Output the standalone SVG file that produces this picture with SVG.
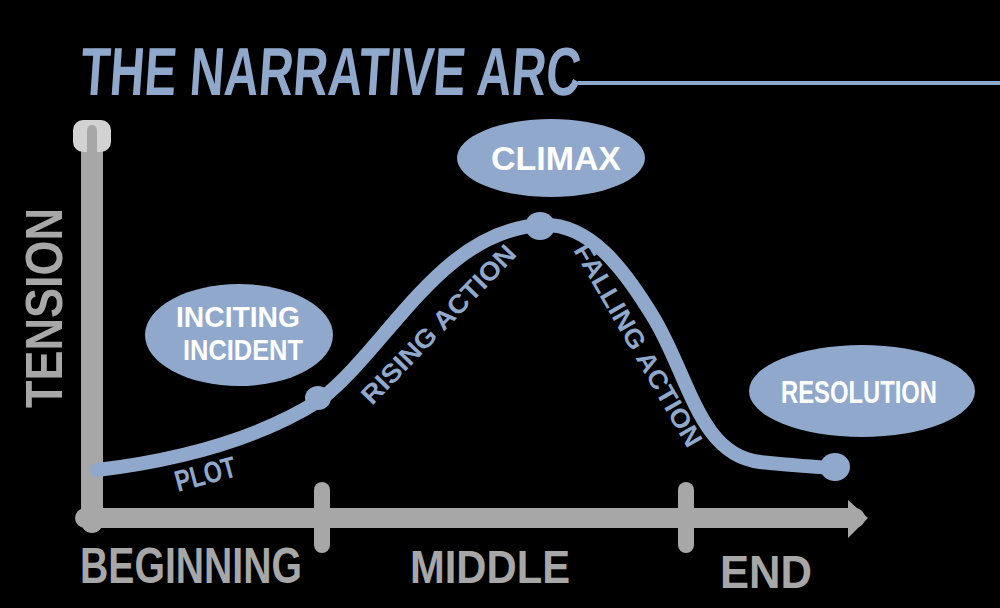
<svg xmlns="http://www.w3.org/2000/svg" width="1000" height="608" viewBox="0 0 1000 608">
<style>
.bg{fill:#000}
.blue{fill:#8fa8cc}
.gray{fill:#a7a7a7}
.axis{stroke:#a7a7a7;fill:none;stroke-linecap:round}
.curve{stroke:#8fa8cc;fill:none;stroke-width:14;stroke-linecap:round}
.hand{font-family:"Liberation Sans Narrow","Liberation Sans",sans-serif;font-weight:bold}
.white{fill:#ffffff}
</style>
<rect class="bg" x="0" y="0" width="1000" height="608"/>

<g id="title">
  <text class="hand blue" x="80" y="95" font-size="68" textLength="500" lengthAdjust="spacingAndGlyphs" transform="skewX(-4) translate(6,0)">THE NARRATIVE ARC</text>
  <line x1="578" y1="83" x2="1000" y2="83" stroke="#8fa8cc" stroke-width="4"/>
</g>

<g id="y-axis">
  <line class="axis" x1="92" y1="135" x2="92" y2="522" stroke-width="22"/>
  <rect x="73" y="120" width="38" height="32" rx="10" fill="#d2d2d2"/>
  <line class="axis" x1="92" y1="130" x2="92" y2="160" stroke-width="10"/>
  <text class="hand gray" transform="translate(62,408) rotate(-90)" font-size="52" textLength="200" lengthAdjust="spacingAndGlyphs">TENSION</text>
</g>

<g id="x-axis">
  <line class="axis" x1="85" y1="518" x2="855" y2="518" stroke-width="20"/>
  <line class="axis" x1="322" y1="490" x2="322" y2="545" stroke-width="16"/>
  <line class="axis" x1="686" y1="490" x2="686" y2="545" stroke-width="16"/>
  <path d="M848 500 L868 518 L848 538 Z" fill="#a7a7a7"/>
  <text class="hand gray" x="80" y="583" font-size="50" textLength="222" lengthAdjust="spacingAndGlyphs">BEGINNING</text>
  <text class="hand gray" x="410" y="583" font-size="46" textLength="160" lengthAdjust="spacingAndGlyphs">MIDDLE</text>
  <text class="hand gray" x="720" y="588" font-size="46" textLength="92" lengthAdjust="spacingAndGlyphs">END</text>
</g>

<g id="connectors">
  <path class="curve" d="M97 470 C180 460 260 438 320 400 C390 345 440 232 540 225 C590 222 625 270 655 320 C690 380 700 455 760 462 C790 465 815 467 835 468"/>
  <text class="hand blue" font-size="30" transform="translate(178,492) rotate(-15)" textLength="62" lengthAdjust="spacingAndGlyphs">PLOT</text>
  <text class="hand blue" font-size="26" transform="translate(372,406) rotate(-46)" textLength="210" lengthAdjust="spacingAndGlyphs">RISING ACTION</text>
  <text class="hand blue" font-size="26" transform="translate(573,250) rotate(60)" textLength="230" lengthAdjust="spacingAndGlyphs">FALLING ACTION</text>
</g>

<g id="dots">
  <ellipse class="blue" cx="318" cy="398" rx="13" ry="12"/>
  <ellipse class="blue" cx="540" cy="226" rx="15" ry="14"/>
  <ellipse class="blue" cx="835" cy="467" rx="15" ry="14"/>
</g>

<g id="inciting-incident">
  <ellipse class="blue" cx="239" cy="335" rx="94" ry="51"/>
  <text class="hand white" x="176" y="327" font-size="30" textLength="124" lengthAdjust="spacingAndGlyphs">INCITING</text>
  <text class="hand white" x="183" y="360" font-size="30" textLength="120" lengthAdjust="spacingAndGlyphs">INCIDENT</text>
</g>

<g id="climax">
  <ellipse class="blue" cx="551" cy="158" rx="94" ry="39"/>
  <text class="hand white" x="491" y="170" font-size="34" textLength="130" lengthAdjust="spacingAndGlyphs">CLIMAX</text>
</g>

<g id="resolution">
  <ellipse class="blue" cx="862" cy="391" rx="113" ry="46"/>
  <text class="hand white" x="781" y="403" font-size="32" textLength="156" lengthAdjust="spacingAndGlyphs">RESOLUTION</text>
</g>
</svg>
